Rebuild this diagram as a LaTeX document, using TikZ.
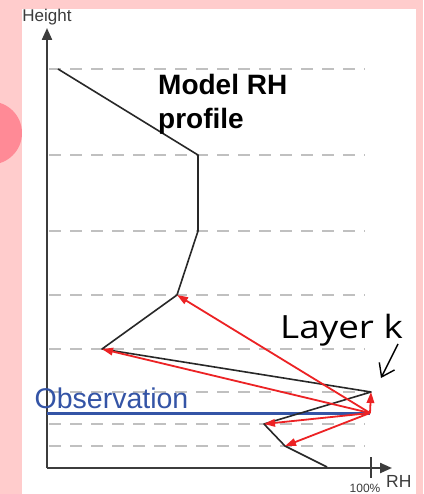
\documentclass[tikz,border=0pt]{standalone}
\usepackage{fontspec}
\setmainfont{Liberation Sans}
\newfontfamily\handfont{Open Sans}
\usetikzlibrary{arrows.meta}

\definecolor{bgpink}{RGB}{255,204,204}
\definecolor{dotpink}{RGB}{255,138,150}
\definecolor{obsblue}{RGB}{52,84,166}
\definecolor{arrowred}{RGB}{236,34,36}
\definecolor{gridgray}{RGB}{192,192,192}
\definecolor{axisgray}{RGB}{60,60,60}
\definecolor{profgray}{RGB}{40,40,40}

\tikzset{
  level/.style={draw=gridgray, line width=1.4pt, dash pattern=on 12pt off 9pt},
  axisline/.style={draw=axisgray, line width=2.2pt, -{Triangle[length=12pt,width=10pt]}},
  profline/.style={draw=profgray, line width=1.6pt, line join=round},
  obsline/.style={draw=obsblue, line width=3pt},
  incr/.style={draw=arrowred, line width=1.8pt, -{Triangle[length=11pt,width=7.5pt]}},
  pointer/.style={draw=black, line width=1.4pt, -{Straight Barb[length=12pt,width=17pt]}},
  lbl/.style={inner sep=0pt},
}

\begin{document}
\begin{tikzpicture}[x=1pt,y=-1pt]
\useasboundingbox (0,0) rectangle (423,494);

% page background and the slide's round marker
\fill[bgpink] (0,0) rectangle (423,494);
\begin{scope}
  \clip (0,0) rectangle (423,494);
  \fill[dotpink] (-9.5,133) circle (31.5pt);
\end{scope}
\fill[white] (22,9) rectangle (416,494);

% model levels
\foreach \yy in {69,155,231,295,349,392,424,446}
  \draw[level] (49,\yy) -- (365,\yy);

% axes
\coordinate (origin) at (47,468);
\coordinate (ytop) at (47,28);
\coordinate (xend) at (392,468);
\coordinate (tickt) at (371,457);
\coordinate (tickb) at (371,478);
\draw[axisline] (origin) -- (ytop);
\draw[axisline] (origin) -- (xend);
\draw[draw=axisgray, line width=1.5pt] (tickt) -- (tickb);

\node[lbl, anchor=base, text=axisgray] (hlabel) at (47,22) {\fontsize{17}{17}\selectfont Height};
\node[lbl, anchor=base, text=axisgray] (pct) at (365,492) {\fontsize{12}{12}\selectfont 100\%};
\node[lbl, anchor=base west, text=axisgray] (rhlabel) at (386,487) {\fontsize{17.5}{17.5}\selectfont RH};

% profile points
\coordinate (p1) at (58,69);
\coordinate (p2) at (198,155);
\coordinate (p3) at (198,231);
\coordinate (p4) at (177,295);
\coordinate (p5) at (102,349);
\coordinate (p6) at (371,392);
\coordinate (p7) at (264,424);
\coordinate (p8) at (285,446);
\coordinate (p9) at (327,467);
\coordinate (src) at (370,413);
\coordinate (obsleft) at (47,413);

% observation
\draw[obsline] (obsleft) -- (src);
\node[lbl, anchor=base west, text=obsblue] (obs) at (34.5,408) {\fontsize{28.5}{28.5}\selectfont Observation};

% model profile
\draw[profline] (p1) -- (p2) -- (p3) -- (p4) -- (p5) -- (p6) -- (p7) -- (p8) -- (p9);

% increments spread from the observed layer
\draw[incr] (src) -- (p4);
\draw[incr] (src) -- (p5);
\draw[incr] (src) -- (p6);
\draw[incr] (src) -- (p7);
\draw[incr] (src) -- (p8);

% labels
\node[lbl, anchor=north west, align=left, font={\fontsize{28}{34}\selectfont\bfseries}] (model) at (158,74.5)
  {Model RH\\profile};

\node[lbl, anchor=base west, xscale=1.15] (layer) at (280,338)
  {\handfont\fontsize{32}{32}\selectfont Layer k};
\coordinate (kfrom) at (398,344);
\coordinate (kto) at (381,378);
\draw[pointer] (kfrom) -- (kto);
\end{tikzpicture}
\end{document}
